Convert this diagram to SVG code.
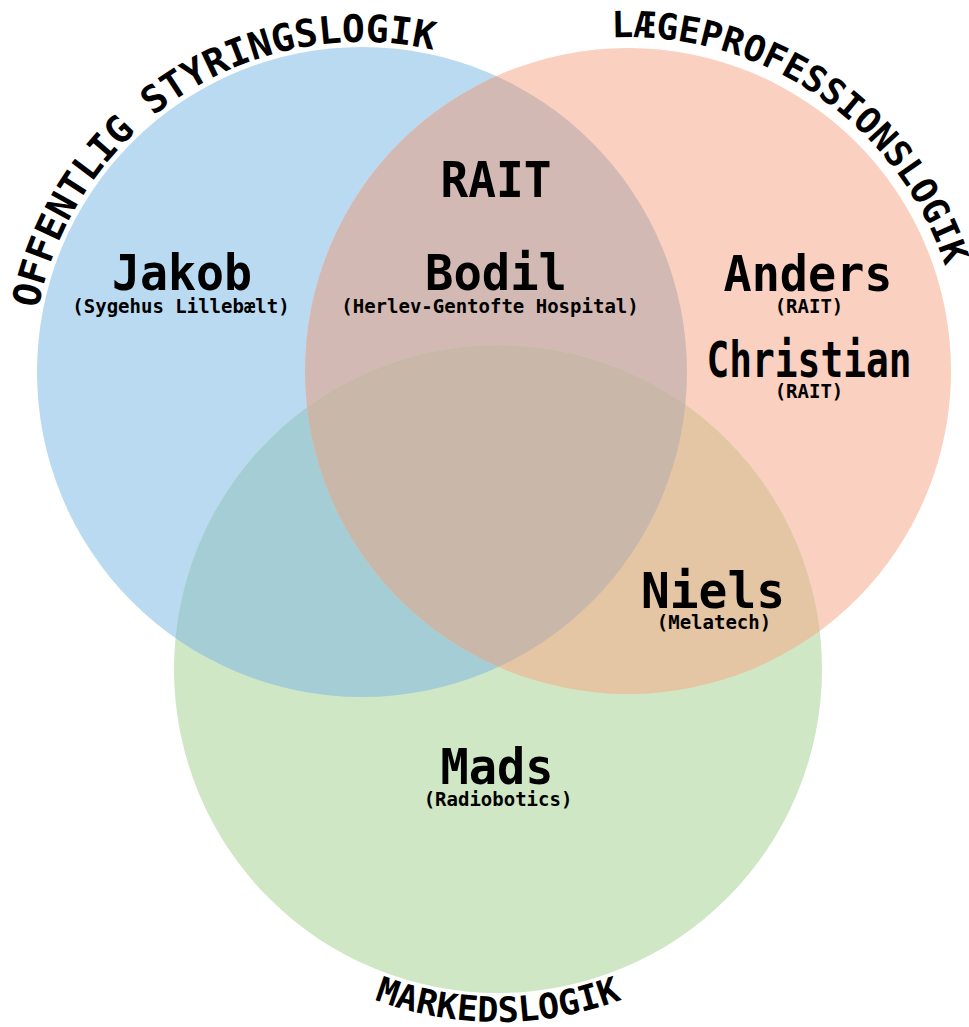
<svg xmlns="http://www.w3.org/2000/svg" width="969" height="1027" viewBox="0 0 969 1027">
<style>
.lbl{font-family:"DejaVu Sans Mono","Liberation Mono",monospace;font-weight:bold;fill:#000;}
.name{font-size:50px;text-anchor:middle;}
.sub{font-size:19px;text-anchor:middle;}
.arc{font-size:37px;}
</style>
<defs>
<clipPath id="cB"><circle cx="362" cy="372" r="325"/></clipPath>
<clipPath id="cR"><circle cx="628" cy="371" r="323"/></clipPath>
<path id="pB" d="M32,372 A330,330 0 0,1 527,86.2"/>
<path id="pR" d="M570,42.1 A334,334 0 0,1 956.9,313"/>
<path id="pG" d="M321.5,974.7 A353,353 0 0,0 674.5,974.7"/>
</defs>
<rect width="969" height="1027" fill="#ffffff"/>
<g id="sets">
<circle id="set-offentlig" cx="362" cy="372" r="325" fill="#b9daf0"/>
<circle id="set-laege" cx="628" cy="371" r="323" fill="#fad0c1"/>
<circle id="set-marked" cx="498" cy="669" r="324" fill="#cfe7c4"/>
<circle cx="628" cy="371" r="323" fill="#d3b9b3" clip-path="url(#cB)"/>
<circle cx="498" cy="669" r="324" fill="#a5cdd5" clip-path="url(#cB)"/>
<circle cx="498" cy="669" r="324" fill="#e4c6a5" clip-path="url(#cR)"/>
<g clip-path="url(#cB)"><circle cx="498" cy="669" r="324" fill="#c9b8a9" clip-path="url(#cR)"/></g>
</g>
<g id="title-offentlig"><text class="lbl" font-size="38"><textPath href="#pB" startOffset="47.3%" text-anchor="middle">OFFENTLIG STYRINGSLOGIK</textPath></text></g>
<g id="title-laege"><text class="lbl" font-size="36"><textPath href="#pR" startOffset="49.4%" text-anchor="middle">LÆGEPROFESSIONSLOGIK</textPath></text></g>
<g id="title-marked"><text class="lbl" font-size="35"><textPath href="#pG" startOffset="50%" text-anchor="middle">MARKEDSLOGIK</textPath></text></g>
<g id="rait"><text class="lbl name" x="496" y="197" textLength="111" lengthAdjust="spacingAndGlyphs">RAIT</text></g>
<g id="jakob"><text class="lbl name" x="182" y="290" textLength="140" lengthAdjust="spacingAndGlyphs">Jakob</text>
<text class="lbl sub" x="181" y="313">(Sygehus Lillebælt)</text></g>
<g id="bodil"><text class="lbl name" x="496" y="290" textLength="142" lengthAdjust="spacingAndGlyphs">Bodil</text>
<text class="lbl sub" x="490" y="313">(Herlev-Gentofte Hospital)</text></g>
<g id="anders"><text class="lbl name" x="808" y="291" textLength="169" lengthAdjust="spacingAndGlyphs">Anders</text>
<text class="lbl sub" x="809" y="313">(RAIT)</text></g>
<g id="christian"><text class="lbl name" x="809" y="377" font-size="46" textLength="205" lengthAdjust="spacingAndGlyphs">Christian</text>
<text class="lbl sub" x="809" y="398">(RAIT)</text></g>
<g id="niels"><text class="lbl name" x="713" y="608" textLength="144" lengthAdjust="spacingAndGlyphs">Niels</text>
<text class="lbl sub" x="714" y="629">(Melatech)</text></g>
<g id="mads"><text class="lbl name" x="497" y="784" textLength="113" lengthAdjust="spacingAndGlyphs">Mads</text>
<text class="lbl sub" x="498" y="806">(Radiobotics)</text></g>
</svg>
